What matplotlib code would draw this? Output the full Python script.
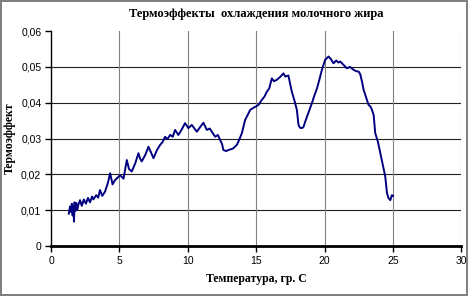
import matplotlib.pyplot as plt
from matplotlib.ticker import FuncFormatter

# values
temp = [1.30, 1.39, 1.45, 1.52, 1.58, 1.63, 1.68, 1.72, 1.78, 1.85, 1.92, 2.00,
        2.12, 2.25, 2.40, 2.55, 2.70, 2.85, 3.00, 3.10, 3.30, 3.45, 3.58, 3.75,
        3.95, 4.15, 4.32, 4.50, 4.68, 4.85, 5.05, 5.30, 5.54, 5.70, 5.90, 6.15,
        6.39, 6.50, 6.63, 6.90, 7.12, 7.30, 7.49, 7.75, 7.97, 8.15, 8.34, 8.50,
        8.71, 8.90, 9.07, 9.31, 9.55, 9.80, 10.04, 10.29, 10.45, 10.66, 10.90,
        11.14, 11.39, 11.60, 11.76, 12.00, 12.20, 12.36, 12.50, 12.60, 12.80,
        12.97, 13.30, 13.58, 13.75, 13.95, 14.19, 14.40, 14.56, 14.80, 15.00,
        15.17, 15.41, 15.60, 15.78, 15.95, 16.14, 16.30, 16.51, 16.75, 16.99,
        17.12, 17.35, 17.60, 17.80, 17.97, 18.09, 18.20, 18.34, 18.45, 18.58,
        18.80, 19.07, 19.25, 19.44, 19.60, 19.80, 19.92, 20.04, 20.15, 20.29,
        20.45, 20.65, 20.85, 21.00, 21.14, 21.40, 21.63, 21.85, 22.11, 22.30,
        22.48, 22.60, 22.73, 22.85, 22.97, 23.21, 23.34, 23.46, 23.58, 23.70,
        23.90, 24.07, 24.25, 24.43, 24.56, 24.68, 24.80, 24.92, 25.00]
effect = [0.0090, 0.0110, 0.0095, 0.0118, 0.0085, 0.0112, 0.0068, 0.0122, 0.0098,
          0.0120, 0.0102, 0.0115, 0.0128, 0.0112, 0.0130, 0.0118, 0.0134, 0.0122,
          0.0138, 0.0130, 0.0142, 0.0135, 0.0156, 0.0140, 0.0152, 0.0175, 0.0203,
          0.0172, 0.0184, 0.0190, 0.0198, 0.0188, 0.0240, 0.0215, 0.0208, 0.0230,
          0.0259, 0.0245, 0.0236, 0.0255, 0.0277, 0.0262, 0.0245, 0.0268, 0.0282,
          0.0290, 0.0305, 0.0298, 0.0310, 0.0305, 0.0324, 0.0310, 0.0325, 0.0343,
          0.0329, 0.0338, 0.0330, 0.0319, 0.0332, 0.0344, 0.0324, 0.0328, 0.0319,
          0.0305, 0.0310, 0.0296, 0.0285, 0.0268, 0.0265, 0.0268, 0.0272, 0.0282,
          0.0296, 0.0315, 0.0352, 0.0368, 0.0380, 0.0386, 0.0390, 0.0394, 0.0408,
          0.0417, 0.0431, 0.0440, 0.0468, 0.0460, 0.0464, 0.0472, 0.0482, 0.0473,
          0.0476, 0.0431, 0.0405, 0.0380, 0.0338, 0.0330, 0.0329, 0.0332, 0.0347,
          0.0370, 0.0399, 0.0420, 0.0440, 0.0462, 0.0492, 0.0506, 0.0520, 0.0524,
          0.0529, 0.0522, 0.0510, 0.0518, 0.0512, 0.0515, 0.0505, 0.0496, 0.0500,
          0.0492, 0.0488, 0.0487, 0.0480, 0.0459, 0.0436, 0.0422, 0.0394, 0.0390,
          0.0380, 0.0366, 0.0315, 0.0290, 0.0259, 0.0225, 0.0194, 0.0147, 0.0133,
          0.0128, 0.0142, 0.0140]

x_ticks = [0, 5, 10, 15, 20, 25, 30]
y_ticks = [0, 0.01, 0.02, 0.03, 0.04, 0.05, 0.06]

serif = "Liberation Serif"
sans = "Liberation Sans"

fig = plt.figure(figsize=(4.68, 2.96), dpi=100)
fig.patch.set_edgecolor("#808080")
fig.patch.set_linewidth(1.5)
ax = fig.add_axes([0.109, 0.169, 0.877, 0.726])

ax.plot(temp, effect, color="#000080", linewidth=1.4)

ax.set_xlim(0, 30)
ax.set_ylim(0, 0.06)
ax.set_xticks(x_ticks)
ax.set_yticks(y_ticks)
ax.yaxis.set_major_formatter(FuncFormatter(
    lambda v, p: "0" if v == 0 else f"{v:.2f}".replace(".", ",")))

# grid: horizontal dark, vertical gray, none on top edge
for y in y_ticks[1:-1]:
    ax.axhline(y, color="#202020", linewidth=0.8, zorder=0)
for x in x_ticks[1:]:
    ax.axvline(x, color="#808080", linewidth=0.8, zorder=0)

for s in ["top", "right"]:
    ax.spines[s].set_visible(False)
ax.spines["left"].set_linewidth(1.0)
ax.spines["bottom"].set_linewidth(2.0)
ax.tick_params(direction="out", length=4, width=1, labelsize=7.5, pad=3)
for lab in ax.get_xticklabels() + ax.get_yticklabels():
    lab.set_fontfamily(sans)

ax.set_title("Термоэффекты  охлаждения молочного жира", fontfamily=serif,
             fontweight="bold", fontsize=9, pad=10)
ax.set_xlabel("Температура, гр. С", fontfamily=serif, fontweight="bold",
              fontsize=8.5, labelpad=5)
ax.set_ylabel("Термоэффект", fontfamily=serif, fontweight="bold", fontsize=8.5)
ax.yaxis.set_label_coords(-0.085, 0.5)

fig.savefig("out.png", dpi=100)
